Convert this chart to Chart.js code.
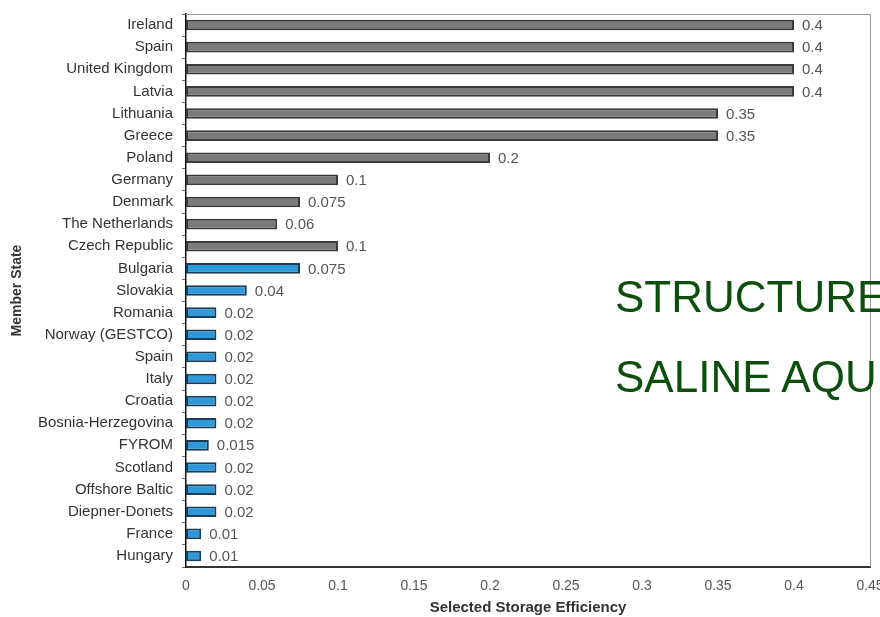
<!DOCTYPE html>
<html>
<head>
<meta charset="utf-8">
<script src="https://cdn.jsdelivr.net/npm/chart.js@4/dist/chart.umd.min.js"></script>
<style>
    body { margin: 0; background: #fff; overflow: hidden; }
    #wrap { position: relative; width: 880px; height: 617px; overflow: hidden; }
    .overlay {
        position: absolute; left: 615px; white-space: nowrap;
        font-family: "Liberation Sans", Arial, sans-serif;
        font-size: 44px; line-height: 44px; color: #0c4f0c;
    }
</style>
</head>
<body>
<div id="wrap">
    <canvas id="efficiency" width="880" height="617"></canvas>
    <div class="overlay" style="top:275px">STRUCTURES</div>
    <div class="overlay" style="top:355px">SALINE AQUIFERS</div>
</div>
<script>
const states = ['Ireland', 'Spain', 'United Kingdom', 'Latvia', 'Lithuania', 'Greece', 'Poland',
    'Germany', 'Denmark', 'The Netherlands', 'Czech Republic', 'Bulgaria', 'Slovakia', 'Romania',
    'Norway (GESTCO)', 'Spain', 'Italy', 'Croatia', 'Bosnia-Herzegovina', 'FYROM', 'Scotland',
    'Offshore Baltic', 'Diepner-Donets', 'France', 'Hungary'];
const efficiency = [0.4, 0.4, 0.4, 0.4, 0.35, 0.35, 0.2, 0.1, 0.075, 0.06, 0.1,
    0.075, 0.04, 0.02, 0.02, 0.02, 0.02, 0.02, 0.02, 0.015, 0.02, 0.02, 0.02, 0.01, 0.01];
// 's' = structures (grey), 'a' = saline aquifers (blue)
const group = ['s', 's', 's', 's', 's', 's', 's', 's', 's', 's', 's',
    'a', 'a', 'a', 'a', 'a', 'a', 'a', 'a', 'a', 'a', 'a', 'a', 'a', 'a'];
const xTicks = [0, 0.05, 0.1, 0.15, 0.2, 0.25, 0.3, 0.35, 0.4, 0.45];

const FONT = '"Liberation Sans", Arial, sans-serif';

function fill(ctx) {
    return group[ctx.dataIndex] === 's' ? '#7b7b7b' : '#2e99d8';
}
function edge(ctx) {
    return group[ctx.dataIndex] === 's' ? '#3a3a3a' : '#1b3d58';
}

// value printed just right of each bar
const valueLabels = {
    id: 'valueLabels',
    afterDatasetsDraw(chart) {
        const c = chart.ctx;
        const meta = chart.getDatasetMeta(0);
        c.save();
        c.font = '15px ' + FONT;
        c.fillStyle = '#555';
        c.textAlign = 'left';
        c.textBaseline = 'middle';
        meta.data.forEach(function (bar, i) {
            c.fillText(String(efficiency[i]), bar.x + 8, bar.y + 1);
        });
        c.restore();
    }
};

// light frame on top and right of the plot
const frame = {
    id: 'frame',
    beforeDatasetsDraw(chart) {
        const a = chart.chartArea;
        const c = chart.ctx;
        c.save();
        c.strokeStyle = '#9a9a9a';
        c.lineWidth = 1;
        c.beginPath();
        c.moveTo(a.left, a.top + 0.5);
        c.lineTo(a.right + 0.5, a.top + 0.5);
        c.lineTo(a.right + 0.5, a.bottom);
        c.stroke();
        c.restore();
    }
};

const config = {
    type: 'bar',
    data: {
        labels: states,
        datasets: [{
            data: efficiency,
            backgroundColor: fill,
            borderColor: edge,
            borderWidth: 2,
            borderSkipped: false,
            barPercentage: 0.48,
            categoryPercentage: 1
        }]
    },
    options: {
        indexAxis: 'y',
        responsive: false,
        animation: false,
        layout: { padding: { left: 0, right: 10, top: 14, bottom: 0 } },
        plugins: {
            legend: { display: false },
            tooltip: { enabled: false }
        },
        scales: {
            x: {
                type: 'linear',
                min: 0,
                max: 0.45,
                afterBuildTicks: function (scale) {
                    scale.ticks = xTicks.map(v => ({ value: v }));
                },
                afterFit: function (scale) {
                    scale.height = 50;
                    scale.paddingLeft = 0;
                    scale.paddingRight = 0;
                },
                grid: { display: false, drawTicks: false },
                border: { display: true, color: '#333', width: 2 },
                ticks: {
                    padding: 11,
                    color: '#555',
                    font: { family: FONT, size: 14 },
                    maxRotation: 0,
                    callback: v => String(+v.toFixed(3))
                },
                title: {
                    display: true,
                    text: 'Selected Storage Efficiency',
                    color: '#333',
                    font: { family: FONT, size: 15, weight: 'bold' },
                    padding: { top: 0, bottom: 0 }
                }
            },
            y: {
                afterFit: function (scale) {
                    scale.width = 186;
                    scale.paddingTop = 0;
                    scale.paddingBottom = 0;
                },
                grid: {
                    offset: true,
                    drawOnChartArea: false,
                    drawTicks: true,
                    tickLength: 4,
                    color: '#666'
                },
                border: { display: true, color: '#111', width: 1.5 },
                ticks: {
                    padding: 9,
                    color: '#333',
                    autoSkip: false,
                    font: { family: FONT, size: 15 }
                },
                title: {
                    display: true,
                    text: 'Member State',
                    color: '#333',
                    font: { family: FONT, size: 14, weight: 'bold' },
                    padding: { top: 9, bottom: 0 }
                }
            }
        }
    },
    plugins: [frame, valueLabels]
};

const efficiencyChart = new Chart(
    document.getElementById('efficiency'),
    config
);
</script>
</body>
</html>
